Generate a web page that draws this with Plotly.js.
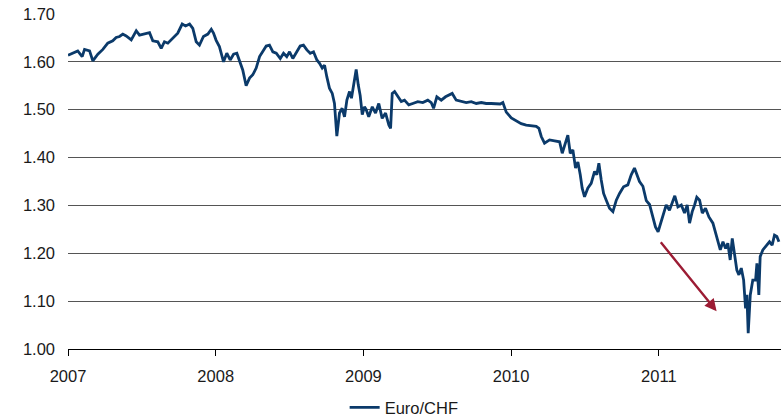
<!DOCTYPE html>
<html>
<head>
<meta charset="utf-8">
<script src="https://cdn.plot.ly/plotly-3.0.1.min.js"></script>
<style>html,body{margin:0;padding:0;background:#fff;}#chart{width:781px;height:417px;}</style>
</head>
<body>
<div id="chart"></div>
<script>
// Decimal year positions of the readings
const years = [
2007.000,2007.032,2007.066,2007.096,2007.112,2007.146,2007.168,2007.202,2007.236,2007.269,
2007.303,2007.326,2007.349,2007.371,2007.394,2007.428,2007.462,2007.484,2007.518,2007.552,
2007.574,2007.608,2007.631,2007.653,2007.676,2007.699,2007.721,2007.743,2007.773,2007.796,
2007.823,2007.845,2007.868,2007.890,2007.917,2007.947,2007.970,2007.985,2008.003,2008.025,
2008.053,2008.075,2008.098,2008.121,2008.143,2008.161,2008.183,2008.206,2008.229,2008.251,
2008.274,2008.297,2008.319,2008.342,2008.364,2008.387,2008.410,2008.437,2008.459,2008.481,
2008.500,2008.522,2008.549,2008.572,2008.594,2008.617,2008.640,2008.662,2008.685,2008.703,
2008.721,2008.737,2008.752,2008.770,2008.789,2008.804,2008.820,2008.838,2008.856,2008.872,
2008.888,2008.906,2008.919,2008.933,2008.951,2008.965,2008.978,2008.992,2009.007,2009.019,
2009.036,2009.060,2009.082,2009.104,2009.127,2009.150,2009.172,2009.184,2009.195,2009.211,
2009.233,2009.256,2009.278,2009.307,2009.334,2009.368,2009.402,2009.436,2009.459,2009.475,
2009.497,2009.527,2009.556,2009.583,2009.601,2009.628,2009.662,2009.696,2009.730,2009.764,
2009.798,2009.831,2009.865,2009.899,2009.926,2009.944,2009.967,2010.001,2010.035,2010.068,
2010.102,2010.136,2010.170,2010.188,2010.204,2010.226,2010.260,2010.294,2010.328,2010.346,
2010.362,2010.384,2010.400,2010.418,2010.436,2010.452,2010.468,2010.481,2010.497,2010.519,
2010.542,2010.565,2010.580,2010.594,2010.610,2010.626,2010.644,2010.666,2010.689,2010.712,
2010.734,2010.761,2010.790,2010.813,2010.835,2010.851,2010.869,2010.892,2010.915,2010.937,
2010.957,2010.977,2010.995,2011.016,2011.032,2011.050,2011.072,2011.091,2011.108,2011.129,
2011.152,2011.174,2011.192,2011.208,2011.226,2011.242,2011.257,2011.276,2011.294,2011.316,
2011.339,2011.366,2011.393,2011.416,2011.434,2011.452,2011.467,2011.483,2011.497,2011.513,
2011.528,2011.542,2011.558,2011.574,2011.587,2011.596,2011.605,2011.619,2011.636,2011.655,
2011.664,2011.677,2011.686,2011.704,2011.722,2011.749,2011.767,2011.783,2011.799,2011.813
];
// EUR/CHF values
const eurChf = [
1.614,1.618,1.623,1.611,1.626,1.623,1.602,1.616,1.626,1.639,
1.644,1.651,1.653,1.658,1.654,1.646,1.665,1.656,1.658,1.661,
1.644,1.642,1.628,1.642,1.639,1.646,1.653,1.660,1.679,1.675,
1.679,1.670,1.642,1.635,1.653,1.658,1.668,1.660,1.645,1.632,
1.600,1.618,1.604,1.616,1.618,1.604,1.583,1.550,1.566,1.573,
1.587,1.611,1.623,1.633,1.635,1.621,1.618,1.607,1.618,1.611,
1.621,1.607,1.621,1.633,1.635,1.625,1.618,1.621,1.604,1.597,
1.587,1.593,1.569,1.545,1.534,1.513,1.445,1.493,1.503,1.485,
1.520,1.538,1.524,1.555,1.584,1.552,1.530,1.490,1.506,1.500,
1.485,1.506,1.493,1.513,1.482,1.493,1.468,1.461,1.534,1.538,
1.527,1.517,1.520,1.510,1.513,1.517,1.515,1.520,1.515,1.503,
1.527,1.520,1.527,1.531,1.534,1.520,1.517,1.515,1.517,1.513,
1.515,1.513,1.513,1.512,1.512,1.515,1.495,1.483,1.477,1.471,
1.468,1.466,1.465,1.461,1.444,1.430,1.437,1.435,1.433,1.409,
1.423,1.447,1.409,1.416,1.378,1.391,1.364,1.336,1.318,1.336,
1.346,1.371,1.364,1.388,1.353,1.325,1.311,1.294,1.287,1.311,
1.325,1.339,1.343,1.364,1.378,1.364,1.350,1.340,1.310,1.302,
1.280,1.255,1.245,1.266,1.284,1.301,1.290,1.304,1.320,1.297,
1.301,1.284,1.301,1.263,1.287,1.301,1.317,1.311,1.284,1.294,
1.276,1.263,1.231,1.207,1.224,1.210,1.221,1.186,1.231,1.200,
1.165,1.155,1.169,1.144,1.085,1.113,1.033,1.113,1.144,1.144,
1.179,1.113,1.193,1.207,1.214,1.224,1.217,1.238,1.235,1.224
];
const xTickVals = [2007, 2008, 2009, 2010, 2011];
const xTickText = ['2007', '2008', '2009', '2010', '2011'];
const yTickVals = [1.00, 1.10, 1.20, 1.30, 1.40, 1.50, 1.60, 1.70];
const yTickText = ['1.00', '1.10', '1.20', '1.30', '1.40', '1.50', '1.60', '1.70'];
const seriesName = 'Euro/CHF';
// Trend arrow (tail -> head), in data units
const arrowTail = [2011.005, 1.226];
const arrowHead = [2011.391, 1.079];

const font = 'Liberation Sans, Arial, Helvetica, sans-serif';

const trace = {
  x: years, y: eurChf, type: 'scatter', mode: 'lines', name: seriesName,
  line: {color: '#0b3a6a', width: 2.8}
};

const layout = {
  width: 781, height: 417,
  margin: {l: 68, r: 0, t: 14, b: 68, autoexpand: false},
  paper_bgcolor: '#ffffff', plot_bgcolor: '#ffffff',
  font: {family: font, size: 16.5, color: '#1a1a1a'},
  showlegend: true,
  legend: {orientation: 'h', x: 0.388, xanchor: 'left', y: -0.175, yanchor: 'middle',
           font: {family: font, size: 16.5, color: '#1a1a1a'}, bgcolor: 'rgba(0,0,0,0)'},
  xaxis: {
    type: 'linear', range: [2007, 2011.827], automargin: false,
    tickvals: xTickVals, ticktext: xTickText,
    ticks: 'outside', ticklen: 6, tickwidth: 1, tickcolor: '#000',
    showgrid: false, zeroline: false,
    showline: true, linecolor: '#000', linewidth: 1,
    ticklabelstandoff: 6,
    tickfont: {family: font, size: 16.5, color: '#1a1a1a'}
  },
  yaxis: {
    range: [1.0, 1.70], automargin: false,
    tickvals: yTickVals, ticktext: yTickText,
    ticks: '', showgrid: true, gridcolor: '#555555', gridwidth: 1,
    zeroline: false, showline: false,
    ticklabelstandoff: 12,
    tickfont: {family: font, size: 16.5, color: '#1a1a1a'}
  },
  annotations: [{
    x: arrowHead[0], y: arrowHead[1], xref: 'x', yref: 'y',
    ax: arrowTail[0], ay: arrowTail[1], axref: 'x', ayref: 'y',
    text: '', showarrow: true, arrowhead: 2, arrowsize: 1, arrowwidth: 2.4,
    arrowcolor: '#9c1c34'
  }]
};

Plotly.newPlot('chart', [trace], layout, {displayModeBar: false, staticPlot: true});
</script>
</body>
</html>
